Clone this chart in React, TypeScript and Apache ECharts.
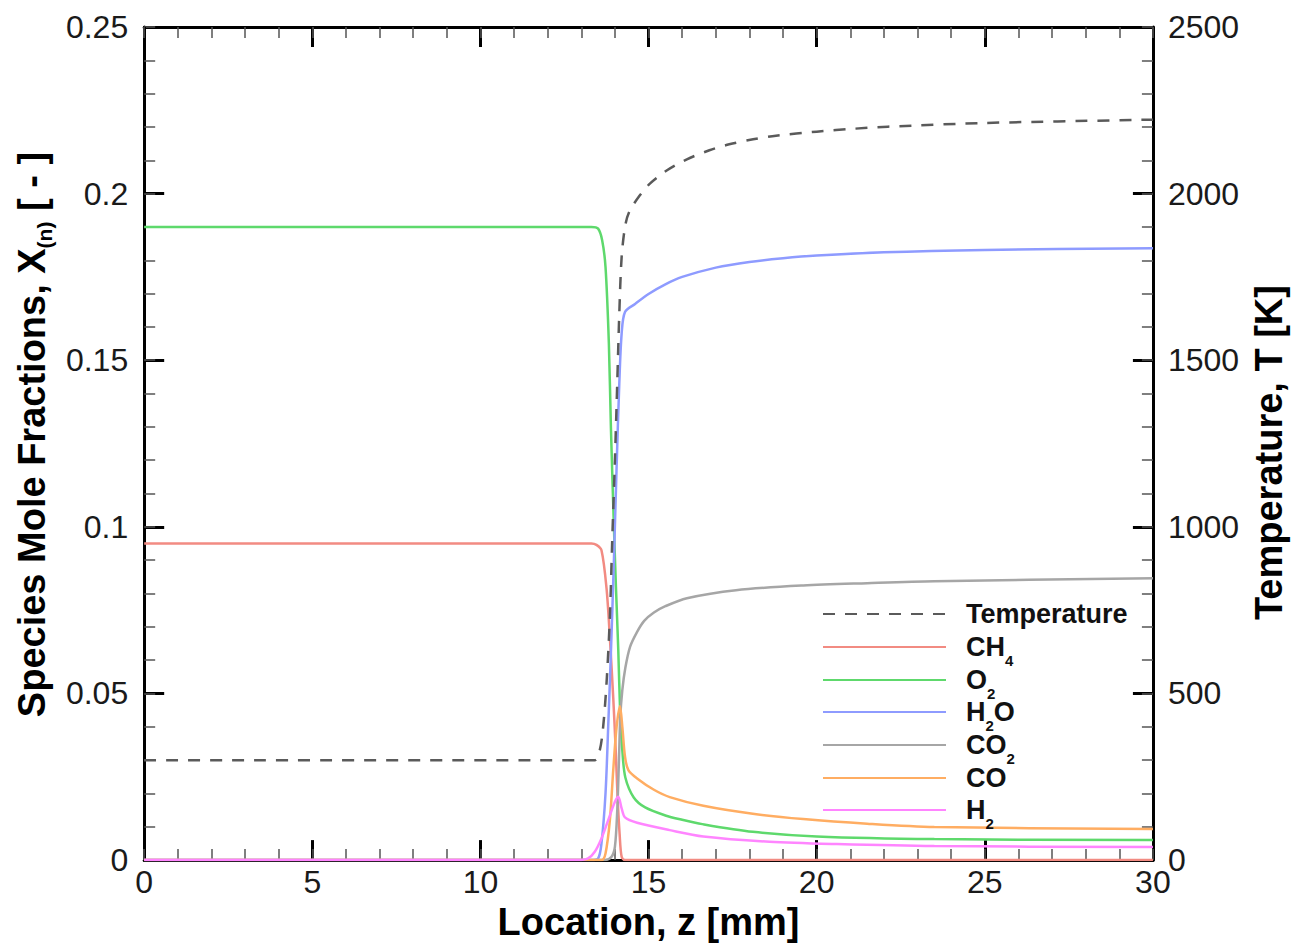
import React, { useEffect, useRef } from "react";
import * as echarts from "echarts";

// x: location z [mm]; y: mole fraction or temperature [K]
const temperature: [number, number][] = [
  [0, 300], [13.4, 300], [13.55, 330], [13.65, 400], [13.75, 530], [13.85, 730],
  [13.92, 960], [14.0, 1200], [14.07, 1435], [14.13, 1640], [14.2, 1810], [14.3, 1900],
  [14.42, 1944], [14.72, 1992], [15.04, 2030], [15.55, 2070], [16.14, 2103],
  [16.81, 2130], [17.4, 2148], [18.11, 2163], [18.79, 2174], [20, 2186],
  [21.15, 2195], [22.12, 2201], [25, 2212], [30, 2222],
];
const ch4: [number, number][] = [
  [0, 0.095], [13.3, 0.095], [13.45, 0.0946], [13.6, 0.093], [13.75, 0.0816],
  [13.85, 0.0667], [13.95, 0.0487], [14.02, 0.0338], [14.08, 0.0188], [14.14, 0.0078],
  [14.2, 0.001], [14.3, 0], [30, 0],
];
const o2: [number, number][] = [
  [0, 0.19], [13.3, 0.19], [13.5, 0.1895], [13.62, 0.186], [13.72, 0.178],
  [13.82, 0.155], [13.88, 0.13], [13.97, 0.1], [14.03, 0.082], [14.1, 0.063],
  [14.16, 0.043], [14.22, 0.0329], [14.31, 0.0248], [14.56, 0.0188], [14.9, 0.0158],
  [15.5, 0.0134], [16.0, 0.0121], [16.6, 0.0108], [18.1, 0.0085], [20, 0.0071],
  [23.5, 0.0063], [30, 0.006],
];
const h2o: [number, number][] = [
  [0, 0], [13.3, 0], [13.5, 0.0005], [13.6, 0.005], [13.72, 0.02], [13.8, 0.04],
  [13.88, 0.062], [13.97, 0.09], [14.05, 0.118], [14.13, 0.143], [14.2, 0.158],
  [14.3, 0.1645], [14.6, 0.1669], [15.0, 0.1699], [15.5, 0.1728], [16, 0.1750],
  [17, 0.1778], [18, 0.1795], [19, 0.1806], [20, 0.1814], [22, 0.1824], [25, 0.1831],
  [30, 0.1836],
];
const co2: [number, number][] = [
  [0, 0], [13.7, 0], [13.9, 0.001], [14.0, 0.004], [14.07, 0.015], [14.12, 0.03],
  [14.16, 0.043], [14.22, 0.051], [14.31, 0.0577], [14.45, 0.064], [14.66, 0.0685],
  [14.87, 0.0718], [15.16, 0.0743], [15.5, 0.0762], [16.14, 0.0786], [17.6, 0.081],
  [19.6, 0.0824], [21.5, 0.0831], [23.5, 0.0837], [30, 0.0846],
];
const co: [number, number][] = [
  [0, 0], [13.6, 0], [13.72, 0.002], [13.85, 0.012], [13.95, 0.027], [14.05, 0.04],
  [14.15, 0.0462], [14.22, 0.04], [14.3, 0.031], [14.4, 0.027], [14.66, 0.0245],
  [15.16, 0.0211], [15.63, 0.0189], [16.63, 0.0163], [18.1, 0.0139], [19.6, 0.0123],
  [21.5, 0.0109], [23.5, 0.0099], [30, 0.0093],
];
const h2: [number, number][] = [
  [0, 0], [12.9, 0], [13.2, 0.0005], [13.4, 0.0025], [13.6, 0.0065], [13.8, 0.012],
  [14.0, 0.0175], [14.1, 0.019], [14.2, 0.0155], [14.3, 0.0128], [14.66, 0.0112],
  [15.63, 0.009], [16.63, 0.0071], [18.6, 0.0055], [20.6, 0.0048], [23.5, 0.0042],
  [30, 0.0039],
];

const seriesNames = ["Temperature", "CH4", "O2", "H2O", "CO2", "CO", "H2"];
const legendRowY = [614, 647, 680, 712, 745, 778, 810];
const legendLabels: Record<string, string> = {
  Temperature: "{m|Temperature}",
  CH4: "{m|CH}{s|4}",
  O2: "{m|O}{s|2}",
  H2O: "{m|H}{s|2}{m|O}",
  CO2: "{m|CO}{s|2}",
  CO: "{m|CO}",
  H2: "{m|H}{s|2}",
};

const FONT = "Liberation Sans";

export default function App() {
  const ref = useRef<HTMLDivElement>(null);
  useEffect(() => {
    const chart = echarts.init(ref.current!, null, { renderer: "svg" });
    const axisLine = { show: true, onZero: false, lineStyle: { color: "#000", width: 3 } };
    const axisTick = { show: true, inside: true, length: 20, lineStyle: { color: "#000", width: 3 } };
    const minorAxisTick = { show: true, inside: true, length: 11, lineStyle: { color: "#555", width: 1.5 } };
    const axisLabel = { fontSize: 32, color: "#1a1a1a", fontFamily: FONT, formatter: (v: number) => String(v) };
    const nameRich = {
      m: { fontSize: 38, fontWeight: "bold", fontFamily: FONT, color: "#000", lineHeight: 40 },
      s: { fontSize: 21, fontWeight: "bold", fontFamily: FONT, color: "#000", lineHeight: 40, padding: [26, 0, 0, 0] },
    };
    const mkLine = (name: string, data: [number, number][], color: string, yAxisIndex = 0, dashed = false) => ({
      name, type: "line", data, yAxisIndex, xAxisIndex: 0, symbol: "none", smooth: 0.3,
      lineStyle: { color, width: 2.5, type: dashed ? [12, 10] : "solid" },
      itemStyle: { color },
      z: dashed ? 3 : 2,
    });
    const minorX = (position: string) => ({
      type: "value", min: 0, max: 30, interval: 1, position,
      axisLine: { show: false, onZero: false }, axisTick: minorAxisTick, axisLabel: { show: false }, splitLine: { show: false },
    });
    const minorY = (position: string, max: number, interval: number) => ({
      type: "value", min: 0, max, interval, position,
      axisLine: { show: false, onZero: false }, axisTick: minorAxisTick, axisLabel: { show: false }, splitLine: { show: false },
    });
    const legends = seriesNames.map((name, i) => ({
      show: true, left: 822, top: legendRowY[i] - 24, padding: 0,
      itemWidth: 123, itemHeight: 60, selectedMode: false,
      data: [name],
      formatter: (n: string) => legendLabels[n] || n,
      itemStyle: { opacity: 0 },
      textStyle: {
        fontSize: 27, fontWeight: "bold", fontFamily: FONT, color: "#111",
        padding: [0, 0, 0, 15],
        rich: {
          m: { fontSize: 27, fontWeight: "bold", fontFamily: FONT, color: "#111", lineHeight: 24 },
          s: { fontSize: 15, fontWeight: "bold", fontFamily: FONT, color: "#111", lineHeight: 24, padding: [26, 0, 0, 0] },
        },
      },
    }));
    chart.setOption({
      animation: false,
      backgroundColor: "#fff",
      grid: { left: 143, right: 136, top: 27, bottom: 83, containLabel: false },
      legend: legends,
      xAxis: [
        {
          type: "value", min: 0, max: 30, interval: 5, position: "bottom",
          axisLine, axisTick, splitLine: { show: false },
          axisLabel: { ...axisLabel, margin: 6 },
          name: "Location, z [mm]", nameLocation: "middle", nameGap: 36,
          nameTextStyle: { fontSize: 38, fontWeight: "bold", color: "#000", fontFamily: FONT },
        },
        {
          type: "value", min: 0, max: 30, interval: 5, position: "top",
          axisLine, axisTick, splitLine: { show: false }, axisLabel: { show: false },
        },
        minorX("bottom"),
        minorX("top"),
      ],
      yAxis: [
        {
          type: "value", min: 0, max: 0.25, interval: 0.05, position: "left",
          axisLine, axisTick, splitLine: { show: false },
          axisLabel: { ...axisLabel, margin: 16 },
          name: "{m|Species Mole Fractions, X}{s|(n)}{m| [ - ]}", nameLocation: "middle", nameGap: 88, nameRotate: 90,
          nameTextStyle: { fontSize: 38, fontWeight: "bold", color: "#000", fontFamily: FONT, padding: [0, 0, 0, 18], rich: nameRich },
        },
        {
          type: "value", min: 0, max: 2500, interval: 500, position: "right",
          axisLine, axisTick, splitLine: { show: false },
          axisLabel: { ...axisLabel, margin: 15 },
          name: "Temperature, T [K]", nameLocation: "middle", nameGap: 97, nameRotate: 90,
          nameTextStyle: { fontSize: 38, fontWeight: "bold", color: "#000", fontFamily: FONT, padding: [0, 18, 0, 0] },
        },
        minorY("left", 0.25, 0.01),
        minorY("right", 2500, 100),
      ],
      series: [
        mkLine("CH4", ch4, "#f28b82"),
        mkLine("O2", o2, "#5ed96c"),
        mkLine("H2O", h2o, "#8e9bff"),
        mkLine("CO2", co2, "#a6a6a6"),
        mkLine("CO", co, "#ffad62"),
        mkLine("H2", h2, "#ff85ff"),
        mkLine("Temperature", temperature, "#5a5a5a", 1, true),
      ],
    });
    return () => chart.dispose();
  }, []);
  return <div ref={ref} style={{ position: "fixed", left: 0, top: 0, width: 1296, height: 946 }} />;
}
